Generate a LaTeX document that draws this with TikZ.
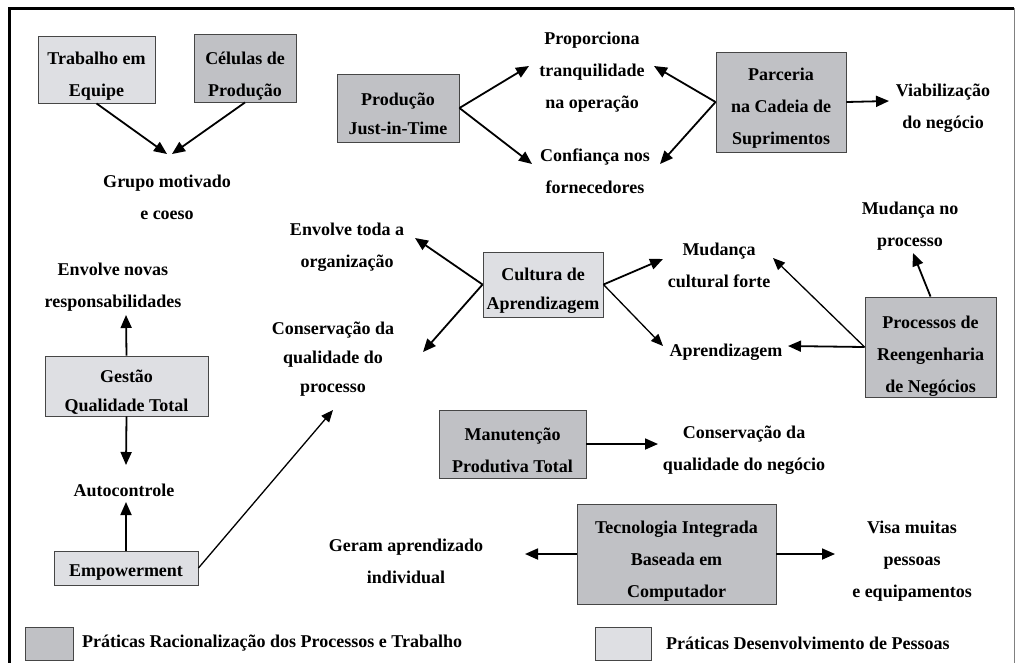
\documentclass[tikz,border=0pt]{standalone}
\usepackage{fontspec}
\setmainfont{Liberation Serif}
\usetikzlibrary{arrows.meta}
\definecolor{boxdark}{RGB}{192,193,197}
\definecolor{boxlight}{RGB}{222,223,227}
\definecolor{boxline}{RGB}{70,70,70}
\tikzset{
  bx/.style={draw=boxline, line width=0.9pt, rectangle, inner sep=0pt},
  dbox/.style={bx, fill=boxdark},
  lbox/.style={bx, fill=boxlight},
  txt/.style={align=center, inner sep=0pt, font=\fontsize{18}{32}\selectfont\bfseries},
  txtn/.style={align=center, inner sep=0pt, font=\fontsize{18}{29}\selectfont\bfseries},
  arr/.style={-{Triangle[length=13pt,width=11pt]}, line width=1.8pt},
  tarr/.style={-{Triangle[length=12pt,width=10pt]}, line width=1.3pt},
}
\begin{document}
\begin{tikzpicture}[x=1pt,y=-1pt]
\useasboundingbox (0,0) rectangle (1016,662);
% frame
\draw[line width=3pt] (9,663) -- (9,8) -- (1014,8);
\draw[gray, line width=1pt] (1014.5,8) -- (1014.5,663);

% boxes
\node[lbox, minimum width=117, minimum height=67] (te) at (96.5,69.5) {};
\node[txt] (te-t) at (96.5,76.5) {Trabalho em\\Equipe};
\node[dbox, minimum width=102, minimum height=68] (cp) at (245,68) {};
\node[txt] (cp-t) at (245,76) {Células de\\Produção};
\node[dbox, minimum width=122, minimum height=68] (jit) at (398,108) {};
\node[txtn] (jit-t) at (398,114) {Produção\\Just-in-Time};
\node[dbox, minimum width=130, minimum height=100] (parc) at (781,102) {};
\node[txt] (parc-t) at (781,108) {Parceria\\na Cadeia de\\Suprimentos};
\node[lbox, minimum width=120, minimum height=65] (cult) at (543,284.5) {};
\node[txtn] (cult-t) at (543,291) {Cultura de\\Aprendizagem};
\node[dbox, minimum width=131, minimum height=100] (proc) at (930.5,347) {};
\node[txt] (proc-t) at (930.5,356) {Processos de\\Reengenharia\\de Negócios};
\node[lbox, minimum width=163, minimum height=60] (gest) at (126.5,386) {};
\node[txtn] (gest-t) at (126.5,392) {Gestão\\Qualidade Total};
\node[dbox, minimum width=147, minimum height=68] (mpt) at (512.5,444) {};
\node[txt] (mpt-t) at (512.5,450) {Manutenção\\Produtiva Total};
\node[lbox, minimum width=144, minimum height=34] (emp) at (126,568) {};
\node[txt] (emp-t) at (126,573) {Empowerment};
\node[dbox, minimum width=199, minimum height=100] (tec) at (676.5,554) {};
\node[txt] (tec-t) at (676.5,561) {Tecnologia Integrada\\Baseada em\\Computador};

% labels
\node[txt] (grupo) at (167,197) {Grupo motivado\\e coeso};
\node[txt] (prop) at (592,72.5) {Proporciona\\tranquilidade\\na operação};
\node[txt] (conf) at (595,171) {Confiança nos\\fornecedores};
\node[txt] (viab) at (943,108.5) {Viabilização\\do negócio};
\node[txt] (mudp) at (910,226) {Mudança no\\processo};
\node[txt] (envt) at (347,247.5) {Envolve toda a\\organização};
\node[txt] (envn) at (113,287.5) {Envolve novas\\responsabilidades};
\node[txtn] (consp) at (333,359) {Conservação da\\qualidade do\\processo};
\node[txt] (mudc) at (719,265) {Mudança\\cultural forte};
\node[txt] (apr) at (726,352) {Aprendizagem};
\node[txt] (consn) at (744,450) {Conservação da\\qualidade do negócio};
\node[txt] (auto) at (124,490) {Autocontrole};
\node[txt] (geram) at (406,561.5) {Geram aprendizado\\individual};
\node[txt] (visa) at (912,561) {Visa muitas\\pessoas\\e equipamentos};

% arrow tips
\coordinate (tgr1) at (167,154);
\coordinate (tgr2) at (172,154);
\coordinate (tpr1) at (529,66);
\coordinate (tcf1) at (532,164);
\coordinate (tpr2) at (654,66);
\coordinate (tcf2) at (660,164);
\coordinate (tvb) at (889,101);
\coordinate (tent) at (415,238);
\coordinate (tcsp) at (423,352);
\coordinate (tmc1) at (663,259);
\coordinate (tap1) at (663,346);
\coordinate (tap2) at (788,346);
\coordinate (tmc2) at (773,258);
\coordinate (tmp) at (913,253);
\coordinate (tenn) at (126,315);
\coordinate (tau1) at (126,465);
\coordinate (tau2) at (126,502);
\coordinate (tcsp2) at (333,410);
\coordinate (tcsn) at (658,444);
\coordinate (tger) at (525,554);
\coordinate (tvis) at (835,554);

% connectors
\draw[arr] (te.south) -- (tgr1);
\draw[arr] (cp.south) -- (tgr2);
\draw[arr] (jit.east) -- (tpr1);
\draw[arr] (jit.east) -- (tcf1);
\draw[arr] (parc.west) -- (tpr2);
\draw[arr] (parc.west) -- (tcf2);
\draw[arr] (parc.east) -- (tvb);
\draw[arr] (cult.west) -- (tent);
\draw[arr] (cult.west) -- (tcsp);
\draw[arr] (cult.east) -- (tmc1);
\draw[tarr] (cult.east) -- (tap1);
\draw[arr] (proc.west) -- (tap2);
\draw[tarr] (proc.west) -- (tmc2);
\draw[arr] (proc.north) -- (tmp);
\draw[arr] (gest.north) -- (tenn);
\draw[arr] (gest.south) -- (tau1);
\draw[arr] (emp.north) -- (tau2);
\draw[tarr] (emp.east) -- (tcsp2);
\draw[arr] (mpt.east) -- (tcsn);
\draw[arr] (tec.west) -- (tger);
\draw[arr] (tec.east) -- (tvis);

% legend
\node[dbox, minimum width=48, minimum height=33] (lg1) at (49,643.5) {};
\node[txt, anchor=west] (lg1-t) at (82,643) {Práticas Racionalização dos Processos e Trabalho};
\node[lbox, minimum width=56, minimum height=33] (lg2) at (623,643.5) {};
\node[txt, anchor=west] (lg2-t) at (666,643) {Práticas Desenvolvimento de Pessoas};
\end{tikzpicture}
\end{document}
